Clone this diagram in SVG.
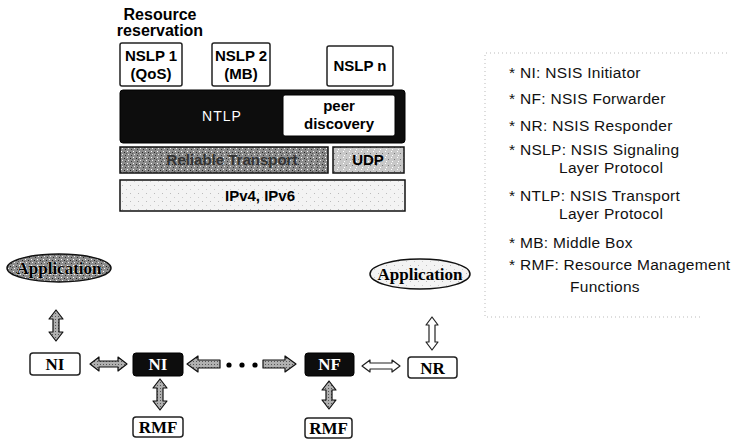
<svg xmlns="http://www.w3.org/2000/svg" width="741" height="445" viewBox="0 0 741 445">
<defs>
<pattern id="speckDark" width="6" height="6" patternUnits="userSpaceOnUse">
<rect width="6" height="6" fill="#8c8c8c"/>
<rect x="1" y="1" width="1" height="1" fill="#fff"/>
<rect x="4" y="2" width="1" height="1" fill="#222"/>
<rect x="2" y="4" width="1" height="1" fill="#eee"/>
<rect x="5" y="5" width="1" height="1" fill="#333"/>
<rect x="0" y="3" width="1" height="1" fill="#555"/>
</pattern>
<pattern id="speckMid" width="6" height="6" patternUnits="userSpaceOnUse">
<rect width="6" height="6" fill="#c8c8c8"/>
<rect x="1" y="1" width="1" height="1" fill="#fff"/>
<rect x="4" y="3" width="1" height="1" fill="#777"/>
<rect x="2" y="5" width="1" height="1" fill="#fff"/>
</pattern>
<pattern id="speckLight" width="8" height="8" patternUnits="userSpaceOnUse">
<rect width="8" height="8" fill="#f3f3f3"/>
<rect x="2" y="1" width="1" height="1" fill="#bbb"/>
<rect x="6" y="5" width="1" height="1" fill="#ccc"/>
</pattern>
<pattern id="arrowFill" width="3" height="3" patternUnits="userSpaceOnUse">
<rect width="3" height="3" fill="#b0b0b0"/>
<rect x="1" y="1" width="1" height="1" fill="#555"/>
</pattern>
</defs>
<style>
.sansB{font-family:"Liberation Sans",Arial,sans-serif;font-weight:bold;font-size:15px;fill:#000;text-anchor:middle}
.legend{font-family:"Liberation Sans",Arial,sans-serif;font-size:15.5px;fill:#111;letter-spacing:0.3px}
.serifB{font-family:"Liberation Serif","Times New Roman",serif;font-weight:bold;font-size:17px;fill:#000;text-anchor:middle}
.box{fill:#fff;stroke:#222;stroke-width:1.5}
.blk{fill:#0d0d0d;stroke:#000;stroke-width:1}
.arrG{fill:url(#arrowFill);stroke:#111;stroke-width:1.2;stroke-linejoin:round}
.arrW{fill:#fff;stroke:#222;stroke-width:1.2;stroke-linejoin:round}
</style>

<!-- Protocol stack -->
<g id="resource-label">
<text class="sansB" x="160" y="20" style="font-size:16px">Resource</text>
<text class="sansB" x="160" y="36" style="font-size:16px">reservation</text>
</g>
<g id="nslp1">
<rect class="box" x="120" y="43" width="62" height="43" rx="2"/>
<text class="sansB" x="151" y="61">NSLP 1</text>
<text class="sansB" x="151" y="79">(QoS)</text>
</g>
<g id="nslp2">
<rect class="box" x="212" y="43" width="58" height="43" rx="2"/>
<text class="sansB" x="241" y="61">NSLP 2</text>
<text class="sansB" x="241" y="79">(MB)</text>
</g>
<g id="nslpn">
<rect class="box" x="327" y="46" width="66" height="40" rx="2"/>
<text class="sansB" x="360" y="71">NSLP n</text>
</g>
<g id="ntlp">
<rect class="blk" x="120" y="90" width="285" height="53" rx="3"/>
<text x="222" y="121" text-anchor="middle" font-family="Liberation Sans,Arial,sans-serif" font-size="14" fill="#fff" letter-spacing="1">NTLP</text>
</g>
<g id="peer-discovery">
<rect x="283" y="95" width="112" height="41" rx="2" fill="#fff" stroke="#000" stroke-width="1"/>
<text class="sansB" x="339" y="111">peer</text>
<text class="sansB" x="339" y="129">discovery</text>
</g>
<g id="reliable-transport">
<rect x="120" y="147" width="208" height="26" fill="url(#speckDark)" stroke="#111" stroke-width="1.5"/>
<text class="sansB" x="232" y="165" style="fill:#333">Reliable Transport</text>
</g>
<g id="udp">
<rect x="333" y="147" width="71" height="26" fill="url(#speckMid)" stroke="#111" stroke-width="1.5"/>
<text class="sansB" x="368" y="165">UDP</text>
</g>
<g id="ip">
<rect x="120" y="180" width="285" height="31" fill="url(#speckLight)" stroke="#111" stroke-width="1.5"/>
<text class="sansB" x="260" y="201">IPv4, IPv6</text>
</g>

<!-- Legend -->
<g id="legend">
<path d="M727,53 H485 V317 H700" fill="none" stroke="#bbb" stroke-width="1" stroke-dasharray="1 3"/>
<text class="legend" x="509" y="78">* NI: NSIS Initiator</text>
<text class="legend" x="509" y="104">* NF: NSIS Forwarder</text>
<text class="legend" x="509" y="131">* NR: NSIS Responder</text>
<text class="legend" x="509" y="155">* NSLP: NSIS Signaling</text>
<text class="legend" x="559" y="173">Layer Protocol</text>
<text class="legend" x="509" y="201">* NTLP: NSIS Transport</text>
<text class="legend" x="559" y="219">Layer Protocol</text>
<text class="legend" x="509" y="248">* MB: Middle Box</text>
<text class="legend" x="509" y="270">* RMF: Resource Management</text>
<text class="legend" x="570" y="292">Functions</text>
</g>

<!-- Bottom nodes -->
<g id="app-left">
<ellipse cx="59" cy="268" rx="52" ry="14" fill="url(#speckDark)" stroke="#111" stroke-width="1.5"/>
<text class="serifB" x="59" y="274" stroke="#fff" stroke-width="0.6" paint-order="stroke">Application</text>
</g>
<g id="app-right">
<ellipse cx="420" cy="274" rx="50" ry="15" fill="url(#speckLight)" stroke="#111" stroke-width="1.5"/>
<text class="serifB" x="420" y="280">Application</text>
</g>
<g id="ni">
<rect class="box" x="30" y="353" width="50" height="22" rx="3"/>
<text class="serifB" x="55" y="370">NI</text>
</g>
<g id="nf1">
<rect class="blk" x="133" y="353" width="50" height="23" rx="3"/>
<text class="serifB" x="158" y="370" style="fill:#fff">NI</text>
</g>
<g id="nf2">
<rect class="blk" x="305" y="353" width="49" height="23" rx="3"/>
<text class="serifB" x="329.5" y="370" style="fill:#fff">NF</text>
</g>
<g id="nr">
<rect class="box" x="408" y="357" width="49" height="21" rx="3"/>
<text class="serifB" x="432.5" y="374">NR</text>
</g>
<g id="rmf1">
<rect class="box" x="133" y="417" width="50" height="20" rx="3"/>
<text class="serifB" x="158" y="433">RMF</text>
</g>
<g id="rmf2">
<rect class="box" x="305" y="418" width="47" height="20" rx="3"/>
<text class="serifB" x="328.5" y="434">RMF</text>
</g>

<!-- Connectors -->
<g id="connectors">
<polygon class="arrG" points="56,310 63,319 59,319 59,332 63,332 56,341 49,332 53,332 53,319 49,319"/>
<polygon class="arrG" points="90,364 99,357 99,361 118,361 118,357 127,364 118,371 118,367 99,367 99,371"/>
<polygon class="arrG" points="187,364 198,356 198,360 220,360 220,368 198,368 198,372"/>
<circle cx="229" cy="365" r="2.6" fill="#000"/>
<circle cx="242" cy="365" r="2.6" fill="#000"/>
<circle cx="255" cy="365" r="2.6" fill="#000"/>
<polygon class="arrG" points="296,364 285,356 285,360 263,360 263,368 285,368 285,372"/>
<polygon class="arrW" points="362,366 370,360 370,363 392,363 392,360 400,366 392,372 392,369 370,369 370,372"/>
<polygon class="arrW" points="432,317 438,325 435,325 435,342 438,342 432,350 426,342 429,342 429,325 426,325"/>
<polygon class="arrG" points="160,379 167,388 163,388 163,401 167,401 160,410 153,401 157,401 157,388 153,388"/>
<polygon class="arrG" points="329,381 336,390 332,390 332,400 336,400 329,409 322,400 326,400 326,390 322,390"/>
</g>
</svg>
